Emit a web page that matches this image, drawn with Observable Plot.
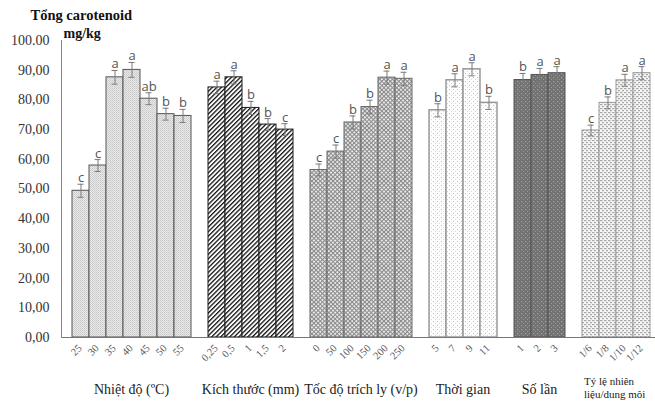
<!DOCTYPE html>
<html>
<head>
<meta charset="utf-8">
<script src="https://cdn.jsdelivr.net/npm/d3@7"></script>
<script src="https://cdn.jsdelivr.net/npm/@observablehq/plot@0.6"></script>
<style>
  html, body { margin: 0; padding: 0; background: #fff; overflow: hidden; }
</style>
</head>
<body>
<div id="chart"></div>
<script>
// ---- data ----
const groupTitles = ["Nhiệt độ (ºC)", "Kích thước (mm)", "Tốc độ trích ly (v/p)", "Thời gian", "Số lần", "Tỷ lệ nhiên\nliệu/dung môi"];

const tempLabels = ["25", "30", "35", "40", "45", "50", "55"];
const tempValues = [49.4, 57.9, 87.6, 90.1, 80.4, 75.2, 74.6];
const tempErrors = [2.2, 2.0, 2.3, 2.5, 2.0, 2.0, 2.2];
const tempLetters = ["c", "c", "a", "a", "ab", "b", "b"];

const sizeLabels = ["0,25", "0,5", "1", "1,5", "2"];
const sizeValues = [84.2, 87.6, 77.3, 71.7, 70.0];
const sizeErrors = [2.1, 2.2, 2.2, 2.0, 2.0];
const sizeLetters = ["a", "a", "b", "b", "c"];

const speedLabels = ["0", "50", "100", "150", "200", "250"];
const speedValues = [56.4, 62.6, 72.4, 77.6, 87.5, 87.1];
const speedErrors = [2.0, 2.2, 2.2, 2.3, 2.2, 2.2];
const speedLetters = ["c", "c", "b", "b", "a", "a"];

const timeLabels = ["5", "7", "9", "11"];
const timeValues = [76.5, 86.6, 90.3, 79.0];
const timeErrors = [2.2, 2.2, 2.2, 2.2];
const timeLetters = ["b", "a", "a", "b"];

const timesLabels = ["1", "2", "3"];
const timesValues = [86.7, 88.4, 89.0];
const timesErrors = [2.2, 2.2, 2.2];
const timesLetters = ["b", "a", "a"];

const ratioLabels = ["1/6", "1/8", "1/10", "1/12"];
const ratioValues = [69.7, 79.0, 86.6, 89.0];
const ratioErrors = [1.8, 2.0, 2.0, 2.2];
const ratioLetters = ["c", "b", "a", "a"];

const yTickValues = [0, 10, 20, 30, 40, 50, 60, 70, 80, 90, 100];
const yTickLabels = ["0,00", "10,00", "20,00", "30,00", "40,00", "50,00", "60,00", "70,00", "80,00", "90,00", "100.00"];

const yTitle = "Tổng carotenoid";
const yUnit = "mg/kg";

// ---- build table ----
const groups = [
  [tempLabels, tempValues, tempErrors, tempLetters],
  [sizeLabels, sizeValues, sizeErrors, sizeLetters],
  [speedLabels, speedValues, speedErrors, speedLetters],
  [timeLabels, timeValues, timeErrors, timeLetters],
  [timesLabels, timesValues, timesErrors, timesLetters],
  [ratioLabels, ratioValues, ratioErrors, ratioLetters]
];
const rows = [];
const domain = [];
groups.forEach(([labels, values, errs, letters], g) => {
  if (g > 0) domain.push(`gap${g}`);
  labels.forEach((label, i) => {
    const key = `${g}|${label}`;
    domain.push(key);
    rows.push({key, label, g, value: values[i], err: errs[i], letter: letters[i]});
  });
});

const patternIds = ["p1", "p2", "p3", "p4", "p5", "p6"];
const strokes = ["#555", "#1a1a1a", "#666", "#999", "#555", "#999"];

const barMarks = groups.map((_, g) =>
  Plot.barY(rows.filter(d => d.g === g), {
    x: "key", y: "value",
    fill: `url(#${patternIds[g]})`,
    stroke: strokes[g], strokeWidth: g === 3 ? 1.5 : 1
  })
);

const plot = Plot.plot({
  width: 655,
  height: 408,
  marginLeft: 61,
  marginRight: -5,
  marginTop: 40,
  marginBottom: 71,
  style: {fontFamily: "'Liberation Serif', serif", background: "#fff"},
  x: {type: "band", domain, paddingInner: 0, paddingOuter: 0, axis: null},
  y: {domain: [0, 100]},
  marks: [
    ...barMarks,
    Plot.ruleY([0], {stroke: "#777", strokeWidth: 1}),
    Plot.ruleX(rows, {x: "key", y1: d => d.value - d.err, y2: d => d.value + d.err, stroke: "#7a7a7a", strokeWidth: 1}),
    Plot.tickY(rows, {x: "key", y: d => d.value + d.err, stroke: "#7a7a7a", insetLeft: 5.5, insetRight: 5.5}),
    Plot.tickY(rows, {x: "key", y: d => d.value - d.err, stroke: "#7a7a7a", insetLeft: 5.5, insetRight: 5.5}),
    Plot.text(rows, {x: "key", y: d => d.value + d.err, text: "letter", lineAnchor: "bottom", dy: -2,
      fontFamily: "'Open Sans', sans-serif", fontSize: 13, fill: "#555"}),
    Plot.axisY({ticks: yTickValues, tickFormat: d => yTickLabels[yTickValues.indexOf(d)], tickSize: 0, tickPadding: 12,
      fontSize: 14, fill: "#333", label: null}),
    // rotated category labels
    Plot.text(rows, {x: "key", text: "label", frameAnchor: "bottom", rotate: -45, textAnchor: "end", lineAnchor: "middle",
      dx: -1, dy: 9, fontSize: 10.5, fill: "#555"}),
    Plot.frame({anchor: "left", stroke: "#888"}),
    Plot.text([yTitle], {frameAnchor: "top-left", text: d => d, dx: -31, dy: -21, lineAnchor: "bottom", textAnchor: "start",
      fontWeight: "bold", fontSize: 14.5, fill: "#111"}),
    Plot.text([yUnit], {frameAnchor: "top-left", text: d => d, dx: 2, dy: -3, lineAnchor: "bottom", textAnchor: "start",
      fontWeight: "bold", fontSize: 14, fill: "#111"})
  ]
});

// patterns
const svg = d3.select(plot);
const defs = svg.insert("defs", ":first-child");
function pat(id, w, h, attrs = {}) {
  const p = defs.append("pattern").attr("id", id).attr("patternUnits", "userSpaceOnUse").attr("width", w).attr("height", h);
  for (const [k, v] of Object.entries(attrs)) p.attr(k, v);
  return p;
}
// p1: light grey fine checker
let p = pat("p1", 2, 2);
p.append("rect").attr("width", 2).attr("height", 2).attr("fill", "#e8e8e8");
p.append("rect").attr("width", 1).attr("height", 1).attr("fill", "#c8c8c8");
p.append("rect").attr("x", 1).attr("y", 1).attr("width", 1).attr("height", 1).attr("fill", "#d2d2d2");
// p2: black diagonal hatch
p = pat("p2", 3.2, 4, {patternTransform: "rotate(45)"});
p.append("rect").attr("width", 3.2).attr("height", 4).attr("fill", "#fff");
p.append("rect").attr("width", 1.3).attr("height", 4).attr("fill", "#111");
// p3: grey diamond crosshatch
p = pat("p3", 3, 3, {patternTransform: "rotate(45)"});
p.append("rect").attr("width", 3).attr("height", 3).attr("fill", "#f2f2f2");
p.append("rect").attr("width", 3).attr("height", 1.1).attr("fill", "#8a8a8a");
p.append("rect").attr("width", 1.1).attr("height", 3).attr("fill", "#8a8a8a");
// p4: white with sparse light dots
p = pat("p4", 4, 4);
p.append("rect").attr("width", 4).attr("height", 4).attr("fill", "#fdfdfd");
p.append("rect").attr("x", 1).attr("y", 1).attr("width", 1).attr("height", 1).attr("fill", "#bdbdbd");
p.append("rect").attr("x", 3).attr("y", 3).attr("width", 1).attr("height", 1).attr("fill", "#d8d8d8");
// p5: dark grey with lighter dots
p = pat("p5", 4, 4);
p.append("rect").attr("width", 4).attr("height", 4).attr("fill", "#727272");
p.append("rect").attr("x", 1).attr("y", 1).attr("width", 1.2).attr("height", 1.2).attr("fill", "#a6a6a6");
p.append("rect").attr("x", 3).attr("y", 3).attr("width", 1.2).attr("height", 1.2).attr("fill", "#9a9a9a");
// p6: white with grey dashes (brick-like)
p = pat("p6", 4, 4);
p.append("rect").attr("width", 4).attr("height", 4).attr("fill", "#f6f6f6");
p.append("rect").attr("x", 0).attr("y", 0).attr("width", 2.5).attr("height", 1.2).attr("fill", "#a8a8a8");
p.append("rect").attr("x", 2).attr("y", 2).attr("width", 2.5).attr("height", 1.2).attr("fill", "#a8a8a8");

// group titles, positioned with the plot's own x scale
const xs = plot.scale("x");
const bw = xs.bandwidth;
const titleG = svg.append("g").attr("font-family", "'Liberation Serif', serif").attr("fill", "#222");
groups.forEach(([labels], g) => {
  const x0 = xs.apply(`${g}|${labels[0]}`);
  const x1 = xs.apply(`${g}|${labels[labels.length - 1]}`) + bw;
  const lines = groupTitles[g].split("\n");
  if (lines.length === 1) {
    titleG.append("text").attr("x", (x0 + x1) / 2).attr("y", 394).attr("text-anchor", "middle")
      .attr("font-size", 14).text(lines[0]);
  } else {
    lines.forEach((ln, i) => {
      titleG.append("text").attr("x", x0 + 2).attr("y", 385 + i * 13).attr("text-anchor", "start")
        .attr("font-size", 11).text(ln);
    });
  }
});

document.getElementById("chart").append(plot);
</script>
</body>
</html>
